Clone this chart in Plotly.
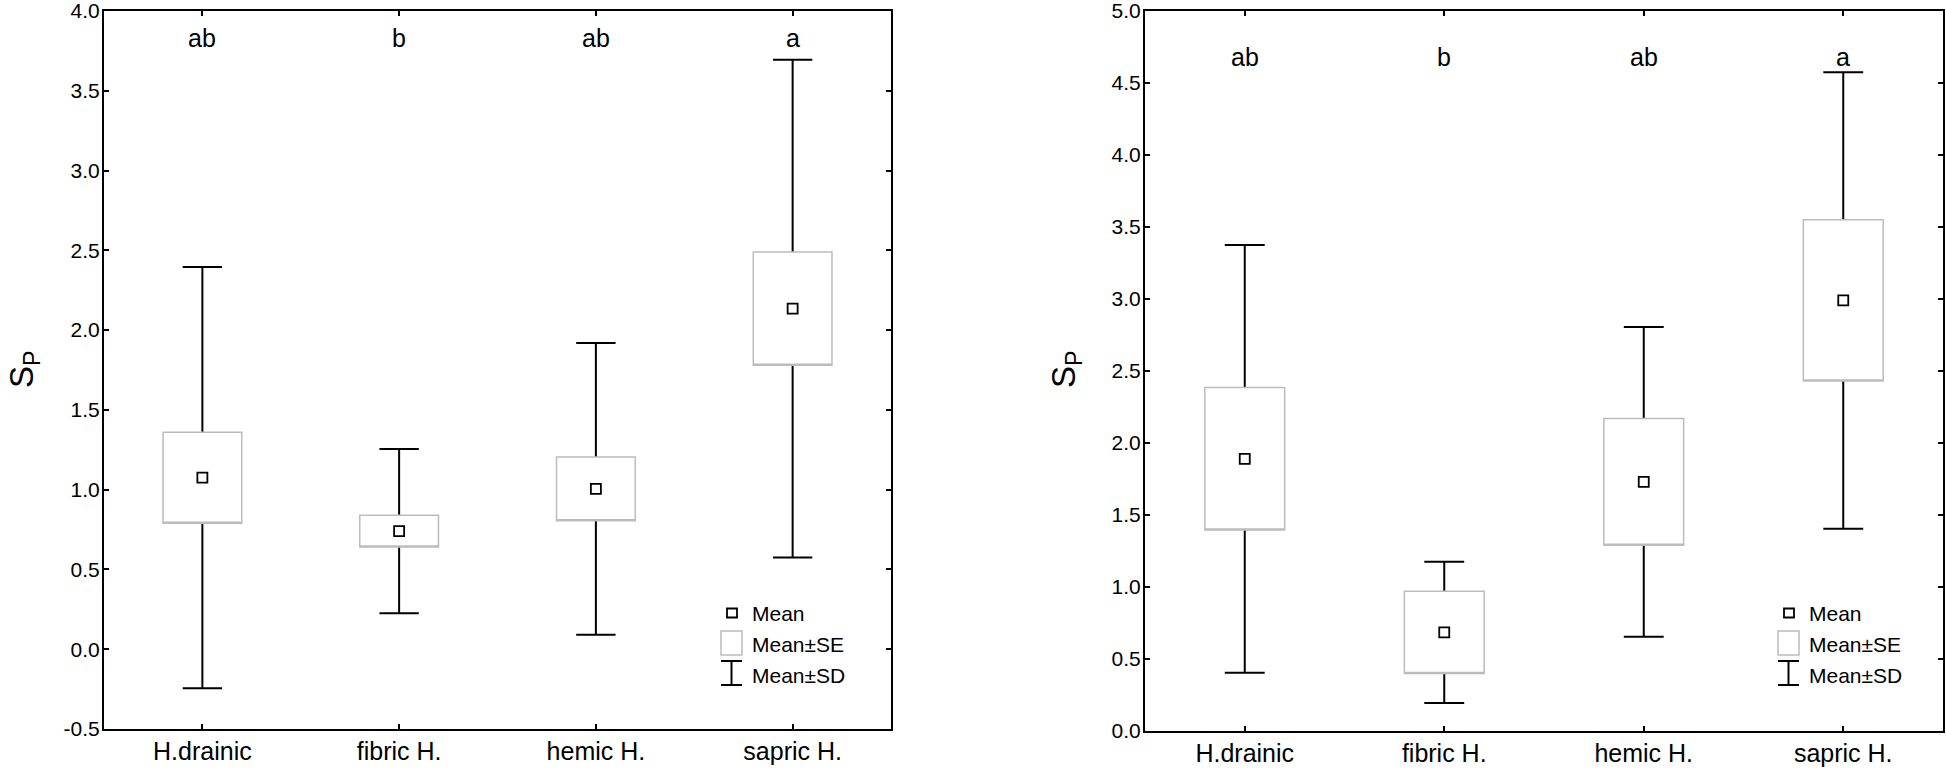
import plotly.graph_objects as go

W, H = 1946, 773

categories = ["H.drainic", "fibric H.", "hemic H.", "sapric H."]

# Left panel
left_mean = [1.075, 0.74, 1.005, 2.135]
left_se = [0.285, 0.10, 0.20, 0.355]
left_sd = [1.32, 0.515, 0.915, 1.56]
left_letters = ["ab", "b", "ab", "a"]
left_ticks = [-0.5, 0.0, 0.5, 1.0, 1.5, 2.0, 2.5, 3.0, 3.5, 4.0]

# Right panel
right_mean = [1.89, 0.685, 1.73, 2.99]
right_se = [0.495, 0.285, 0.44, 0.56]
right_sd = [1.485, 0.49, 1.075, 1.585]
right_letters = ["ab", "b", "ab", "a"]
right_ticks = [0.0, 0.5, 1.0, 1.5, 2.0, 2.5, 3.0, 3.5, 4.0, 4.5, 5.0]

FONT = "Arial, Liberation Sans, sans-serif"
GREY = "#bcbcbc"

fig = go.Figure()


def add_panel(means, se, sd, xa, ya):
    lo_sd = [m - s for m, s in zip(means, sd)]
    hi_sd = [m + s for m, s in zip(means, sd)]
    lo_se = [m - s for m, s in zip(means, se)]
    hi_se = [m + s for m, s in zip(means, se)]
    # Mean±SD whiskers (collapsed box at mean)
    fig.add_trace(go.Box(
        x=categories, q1=means, median=means, q3=means,
        lowerfence=lo_sd, upperfence=hi_sd,
        width=0.2, whiskerwidth=1.0,
        line=dict(color="black", width=2), fillcolor="white",
        boxpoints=False, showlegend=False, xaxis=xa, yaxis=ya,
        hoverinfo="skip"))
    # Mean±SE box
    fig.add_trace(go.Box(
        x=categories, q1=lo_se, median=lo_se, q3=hi_se,
        lowerfence=lo_se, upperfence=hi_se,
        width=0.4, whiskerwidth=0,
        line=dict(color=GREY, width=1.5), fillcolor="white",
        boxpoints=False, showlegend=False, xaxis=xa, yaxis=ya,
        hoverinfo="skip"))
    # Mean marker
    fig.add_trace(go.Scatter(
        x=categories, y=means, mode="markers",
        marker=dict(symbol="square", size=10, color="white",
                    line=dict(color="black", width=1.8)),
        showlegend=False, xaxis=xa, yaxis=ya, hoverinfo="skip"))


add_panel(left_mean, left_se, left_sd, "x", "y")
add_panel(right_mean, right_se, right_sd, "x2", "y2")

# significance letters
for i, t in enumerate(left_letters):
    fig.add_annotation(x=categories[i], y=0.9625, xref="x", yref="y domain",
                       text=t, showarrow=False, yanchor="middle",
                       font=dict(family=FONT, size=25, color="black"))
for i, t in enumerate(right_letters):
    fig.add_annotation(x=categories[i], y=0.936, xref="x2", yref="y2 domain",
                       text=t, showarrow=False, yanchor="middle",
                       font=dict(family=FONT, size=25, color="black"))


def px(x):
    return x / W


def py(y):
    return 1 - y / H


# y-axis titles
for xc in (24, 1066):
    fig.add_annotation(x=px(xc), y=py(370), xref="paper", yref="paper",
                       text="S<sub>P</sub>", textangle=-90, showarrow=False,
                       xanchor="center", yanchor="middle",
                       font=dict(family=FONT, size=33, color="black"))

# manual legends
def legend(x0):
    shapes = []
    shapes.append(dict(type="rect", xref="paper", yref="paper",
                       x0=px(x0 + 6), x1=px(x0 + 16), y0=py(617.5), y1=py(608.5),
                       line=dict(color="black", width=1.8), fillcolor="white"))
    shapes.append(dict(type="rect", xref="paper", yref="paper",
                       x0=px(x0), x1=px(x0 + 21), y0=py(655), y1=py(631),
                       line=dict(color=GREY, width=1.5), fillcolor="white"))
    xc = x0 + 10.5
    shapes.append(dict(type="line", xref="paper", yref="paper",
                       x0=px(xc), x1=px(xc), y0=py(661), y1=py(685),
                       line=dict(color="black", width=2)))
    for yy in (661, 685):
        shapes.append(dict(type="line", xref="paper", yref="paper",
                           x0=px(x0), x1=px(x0 + 21), y0=py(yy), y1=py(yy),
                           line=dict(color="black", width=2)))
    for s in shapes:
        fig.add_shape(**s)
    for txt, yy in (("Mean", 613), ("Mean±SE", 644), ("Mean±SD", 675)):
        fig.add_annotation(x=px(x0 + 29), y=py(yy), xref="paper", yref="paper",
                           text=txt, showarrow=False, xanchor="left",
                           yanchor="middle",
                           font=dict(family=FONT, size=21, color="black"))


legend(721)
legend(1778)

axis_common = dict(
    showline=True, linecolor="black", linewidth=2, mirror="allticks",
    ticks="inside", ticklen=5, tickwidth=1.5, tickcolor="black",
    showgrid=False, zeroline=False, ticklabeloverflow="allow",
    automargin=False,
)

fig.update_layout(
    width=W, height=H,
    margin=dict(l=0, r=0, t=0, b=0),
    paper_bgcolor="white", plot_bgcolor="white",
    boxmode="overlay",
    showlegend=False,
    xaxis=dict(domain=[104 / W, 891 / W], anchor="y", type="category",
               categoryorder="array", categoryarray=categories,
               range=[-0.5, 3.5], ticklabelstandoff=-1,
               tickfont=dict(family=FONT, size=25, color="black"),
               **axis_common),
    yaxis=dict(domain=[44 / H, 762 / H], anchor="x",
               range=[left_ticks[0], left_ticks[-1]],
               tickmode="array", tickvals=left_ticks,
               ticktext=[f"{v:.1f}" for v in left_ticks],
               ticklabelstandoff=-2,
               tickfont=dict(family=FONT, size=21, color="black"),
               **axis_common),
    xaxis2=dict(domain=[1145 / W, 1943 / W], anchor="y2", type="category",
                categoryorder="array", categoryarray=categories,
                range=[-0.5, 3.5], ticklabelstandoff=-1,
                tickfont=dict(family=FONT, size=25, color="black"),
                **axis_common),
    yaxis2=dict(domain=[42 / H, 762 / H], anchor="x2",
                range=[right_ticks[0], right_ticks[-1]],
                tickmode="array", tickvals=right_ticks,
                ticktext=[f"{v:.1f}" for v in right_ticks],
                ticklabelstandoff=-2,
                tickfont=dict(family=FONT, size=21, color="black"),
                **axis_common),
)

fig.write_html(
    "out.html",
    config={"displayModeBar": False},
    post_script="document.body.style.margin='0';"
                "document.body.style.overflow='hidden';",
)
